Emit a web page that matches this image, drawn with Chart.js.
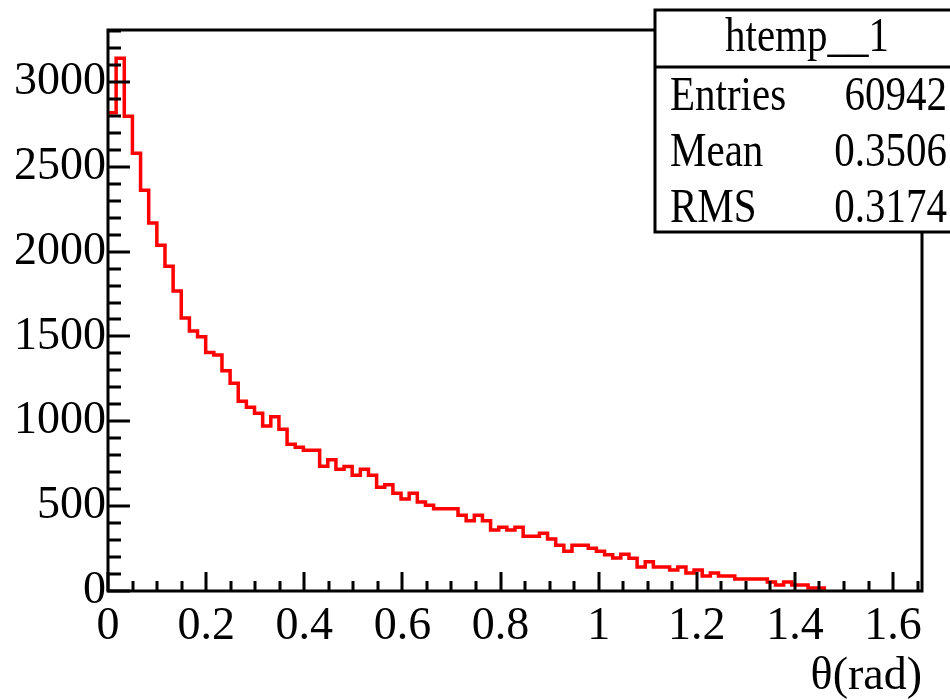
<!DOCTYPE html>
<html>
<head>
<meta charset="utf-8">
<title>htemp__1</title>
<script src="https://cdn.jsdelivr.net/npm/chart.js@4.4.1/dist/chart.umd.min.js"></script>
<style>
  html, body { margin: 0; padding: 0; background: #fff; }
</style>
</head>
<body>
<canvas id="thetaChart" width="950" height="700"></canvas>
<script>
// theta histogram: 100 bins over [0, X_MAX] rad, everything past bin 87 is empty
const BIN_WIDTH = 0.01659;
const X_MAX = 1.659;
const Y_MAX = 3306;

const counts = [
    2819, 3140, 2798, 2580, 2362, 2169, 2037, 1914, 1768, 1609, 1532, 1499, 1405, 1391, 1298,
    1224, 1118, 1083, 1047, 972, 1027, 953, 865, 847, 829, 829, 735, 774, 717, 733, 682, 717, 682, 611, 626, 576, 542,
    576, 525, 505, 485, 485, 485, 446, 414, 446, 414, 360, 375, 360, 375, 322, 322, 340, 306, 269, 234, 269, 269, 252, 234, 214, 194,
    216, 193, 141, 173, 141, 141, 124, 141, 106, 124, 88, 106, 88, 88, 71, 71, 71, 71, 53, 35, 53, 35, 35, 18, 18
];

const xMajorTicks = [0, 0.2, 0.4, 0.6, 0.8, 1, 1.2, 1.4, 1.6];
const yMajorTicks = [0, 500, 1000, 1500, 2000, 2500, 3000];

const histName = 'htemp__1';
const statNames = ['Entries', 'Mean', 'RMS'];
const statValues = ['60942', '0.3506', '0.3174'];
const xTitle = 'θ(rad)';

const SERIF = "'Liberation Serif', 'Times New Roman', serif";

// one point per bin low edge, plus the closing edge back down to zero
const histPoints = counts.map((c, i) => ({ x: i * BIN_WIDTH, y: c }));
histPoints.push({ x: counts.length * BIN_WIDTH, y: 0 });

// text squeezed a bit taller than the font's own shape
function tallText(ctx, text, x, y, align) {
    ctx.save();
    ctx.translate(x, y);
    ctx.scale(1, 1.2);
    ctx.textAlign = align;
    ctx.textBaseline = 'alphabetic';
    ctx.fillText(text, 0, 0);
    ctx.restore();
}

const rootFrame = {
    id: 'rootFrame',
    afterDatasetsDraw(chart) {
        const { ctx, chartArea: a, scales: { x, y } } = chart;
        ctx.save();
        ctx.strokeStyle = '#000';
        ctx.lineWidth = 3;
        ctx.strokeRect(a.left, a.top, a.right - a.left, a.bottom - a.top);

        // tick marks point inward, long every 500 / 0.2, short every 100 / 0.05
        ctx.beginPath();
        for (let i = 0; i * 100 <= Y_MAX; i++) {
            const py = Math.round(y.getPixelForValue(i * 100));
            const len = i % 5 === 0 ? 22 : 13;
            ctx.moveTo(a.left, py);
            ctx.lineTo(a.left + len, py);
        }
        for (let i = 0; i * 0.05 <= X_MAX; i++) {
            const px = Math.round(x.getPixelForValue(i * 0.05));
            const len = i % 4 === 0 ? 19 : 10;
            ctx.moveTo(px, a.bottom);
            ctx.lineTo(px, a.bottom - len);
        }
        ctx.stroke();
        ctx.restore();
    },
    afterDraw(chart) {
        const { ctx } = chart;
        const left = 655, top = 10, bottom = 232, right = 953, split = 67;
        ctx.save();
        ctx.fillStyle = '#fff';
        ctx.fillRect(left, top, right - left, bottom - top);
        ctx.strokeStyle = '#000';
        ctx.lineWidth = 3;
        ctx.strokeRect(left, top, right - left, bottom - top);
        ctx.beginPath();
        ctx.moveTo(left, split);
        ctx.lineTo(right, split);
        ctx.stroke();

        ctx.fillStyle = '#000';
        ctx.font = `41px ${SERIF}`;
        tallText(ctx, histName, 807, 51, 'center');
        statNames.forEach((name, i) => {
            const base = 110 + i * 56;
            tallText(ctx, name, 670, base, 'left');
            tallText(ctx, statValues[i], 947, base, 'right');
        });
        ctx.restore();
    }
};

const tickFont = { family: SERIF, size: 46 };

new Chart(document.getElementById('thetaChart'), {
    type: 'line',
    data: {
        datasets: [{
            data: histPoints,
            stepped: true,
            borderColor: '#ff0000',
            borderWidth: 3.5,
            pointRadius: 0,
            fill: false,
            tension: 0,
        }],
    },
    options: {
        responsive: false,
        animation: false,
        events: [],
        layout: { padding: { top: 30, right: 28, left: 0, bottom: 0 } },
        plugins: {
            legend: { display: false },
            tooltip: { enabled: false },
        },
        scales: {
            x: {
                type: 'linear',
                min: 0,
                max: X_MAX,
                afterBuildTicks: (s) => { s.ticks = xMajorTicks.map(v => ({ value: v })); },
                afterFit: (s) => { s.height = 109; },
                grid: { display: false, drawTicks: false },
                border: { display: false },
                ticks: {
                    color: '#000',
                    font: tickFont,
                    padding: 8,
                    maxRotation: 0,
                    autoSkip: false,
                    callback: (v) => String(v),
                },
                title: {
                    display: true,
                    text: xTitle,
                    align: 'end',
                    color: '#000',
                    font: { family: SERIF, size: 46, lineHeight: 1 },
                    padding: 0,
                },
            },
            y: {
                type: 'linear',
                min: 0,
                max: Y_MAX,
                afterBuildTicks: (s) => { s.ticks = yMajorTicks.map(v => ({ value: v })); },
                afterFit: (s) => { s.width = 108; },
                grid: { display: false, drawTicks: false },
                border: { display: false },
                ticks: {
                    color: '#000',
                    font: tickFont,
                    padding: 2,
                    autoSkip: false,
                    callback: (v) => String(v),
                },
            },
        },
    },
    plugins: [rootFrame],
});
</script>
</body>
</html>
